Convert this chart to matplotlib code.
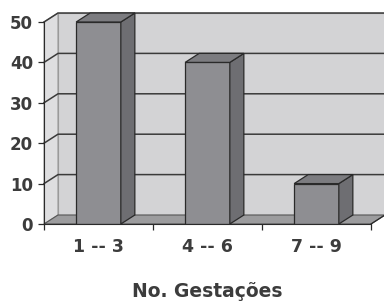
import numpy as np
import matplotlib.pyplot as plt
from matplotlib.patches import Polygon

# data
categories = ['1 -- 3', '4 -- 6', '7 -- 9']
values = [50, 40, 10]
y_ticks = [0, 10, 20, 30, 40, 50]

plt.rcParams['font.family'] = ['DejaVu Sans']
plt.rcParams['font.weight'] = 'bold'

fig = plt.figure(figsize=(3.84, 3.04), dpi=100)
ax = fig.add_axes([44 / 384, 80 / 304, 327 / 384, 202 / 304])
ax.set_xlim(-0.5, 2.5)
ax.set_ylim(0, 50)

# depth offset of the fake 3d look (data units)
dx, dy = 14 / 109, 9 / 4.04
bar_w = 0.41

wall_c = '#d3d3d5'
side_c = '#dedee0'
floor_c = '#9c9c9e'
edge_c = '#2a2a2a'
text_c = '#3c3c3c'

x0, x1 = -0.5, 2.5
top = 50
# left wall
ax.add_patch(Polygon([(x0, 0), (x0, top), (x0 + dx, top + dy), (x0 + dx, dy)],
                     closed=True, fc=side_c, ec='#9a9a9a', lw=0.8, clip_on=False, zorder=0))
# back wall
ax.add_patch(Polygon([(x0 + dx, dy), (x0 + dx, top + dy), (x1 + 2 * dx, top + dy), (x1 + 2 * dx, dy)],
                     closed=True, fc=wall_c, ec='#9a9a9a', lw=0.8, clip_on=False, zorder=0))
# floor
ax.add_patch(Polygon([(x0, 0), (x1, 0), (x1 + dx, dy), (x0 + dx, dy)],
                     closed=True, fc=floor_c, ec='#555555', lw=0.8, clip_on=False, zorder=1))

# gridlines on walls
for t in y_ticks[1:]:
    ax.plot([x0, x0 + dx, x1 + 2 * dx], [t, t + dy, t + dy], color='#3a3a3a',
            lw=1.1, clip_on=False, zorder=1)

# bars
xs = np.arange(len(categories))
ax.bar(xs, values, width=bar_w, color='#8e8e92', edgecolor=edge_c, lw=0.9, zorder=3)
for x, v in zip(xs, values):
    l, r = x - bar_w / 2, x + bar_w / 2
    ax.add_patch(Polygon([(r, 0), (r, v), (r + dx, v + dy), (r + dx, dy)], closed=True,
                         fc='#6e6e72', ec=edge_c, lw=0.9, clip_on=False, zorder=3))
    ax.add_patch(Polygon([(l, v), (r, v), (r + dx, v + dy), (l + dx, v + dy)], closed=True,
                         fc='#7c7c80', ec=edge_c, lw=0.9, clip_on=False, zorder=3))

# axes
for s in ['top', 'right']:
    ax.spines[s].set_visible(False)
ax.spines['left'].set_color(edge_c)
ax.spines['bottom'].set_color(edge_c)
ax.spines['left'].set_zorder(4)
ax.spines['bottom'].set_zorder(4)
ax.plot([x1, x1 + dx], [0, dy], color=edge_c, lw=0.9, clip_on=False, zorder=4)

ax.set_yticks(y_ticks)
ax.tick_params(axis='y', length=4, width=0.9, color=edge_c, labelsize=12,
               labelcolor=text_c, pad=4)
ax.set_xticks(xs)
ax.set_xticklabels(categories)
ax.set_xticks(np.arange(-0.5, 3, 1), minor=True)
ax.tick_params(axis='x', which='major', length=0, labelsize=12.5, labelcolor=text_c, pad=10)
ax.tick_params(axis='x', which='minor', length=4, width=0.9, color=edge_c)
ax.set_xlabel('No. Gestações', fontsize=13.5, color=text_c, labelpad=19, fontweight='bold')
ax.patch.set_visible(False)

fig.savefig('out.png', dpi=100)
